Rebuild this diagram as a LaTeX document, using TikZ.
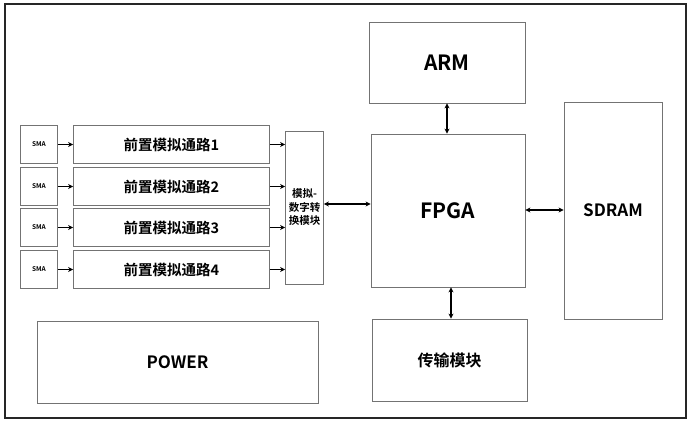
\documentclass[tikz,border=0pt]{standalone}
\usepackage{fontspec}
\setmainfont{Noto Sans CJK SC}[BoldFont={* Bold}]
\usetikzlibrary{arrows.meta}
\begin{document}
\begin{tikzpicture}[x=1pt,y=-1pt,
  blk/.style={draw=black!55,line width=0.8pt,inner sep=0pt,font=\bfseries},
  arr/.style={line width=1.3pt,-{Stealth[length=5pt,width=5pt]}},
  biarr/.style={line width=1.3pt,{Stealth[length=5pt,width=5pt]}-{Stealth[length=5pt,width=5pt]}}]
\useasboundingbox (0,0) rectangle (693,425);
\draw[line width=2pt,black!85] (5,4) rectangle (686,418);
% boxes
\node[blk,fit/.style={},minimum width=156pt,minimum height=81pt,font=\bfseries\fontsize{21}{24}\selectfont] (arm) at (447,62.5) {ARM};
\node[blk,minimum width=154pt,minimum height=153pt,font=\bfseries\fontsize{21}{24}\selectfont] (fpga) at (448,210.5) {FPGA};
\node[blk,minimum width=98pt,minimum height=217pt,font=\bfseries\fontsize{17}{20}\selectfont] (sdram) at (613,210.5) {SDRAM};
\node[blk,minimum width=155pt,minimum height=82pt,font=\bfseries\fontsize{16}{19}\selectfont] (tx) at (449.5,360) {传输模块};
\node[blk,minimum width=281pt,minimum height=82pt,font=\bfseries\fontsize{17}{20}\selectfont] (pwr) at (177.5,362) {POWER};
\node[blk,minimum width=38pt,minimum height=153pt,align=center,font=\bfseries\fontsize{10.5}{13.5}\selectfont] (adc) at (304.5,207.5) {模拟-\\数字转\\换模块};
\foreach \i/\yc in {1/144.5,2/186.5,3/227.5,4/269.5}{
  \node[blk,minimum width=37pt,minimum height=38pt,font=\bfseries\fontsize{6.5}{8}\selectfont] (sma\i) at (39,\yc) {SMA};
  \node[blk,minimum width=196pt,minimum height=38pt,font=\bfseries\fontsize{14.5}{17}\selectfont] (ch\i) at (171.5,\yc) {前置模拟通路\i};
  \draw[arr] (sma\i) -- (ch\i);
  \draw[arr] (ch\i.east) -- (ch\i.east -| adc.west);
}
\draw[biarr] (adc.east |- 0,204) -- (fpga.west |- 0,204);
\draw[biarr] (arm.south -| 447,0) -- (fpga.north -| 447,0);
\draw[biarr] (fpga.south -| 451,0) -- (tx.north -| 451,0);
\draw[biarr] (fpga.east |- 0,210) -- (sdram.west |- 0,210);
\end{tikzpicture}
\end{document}
